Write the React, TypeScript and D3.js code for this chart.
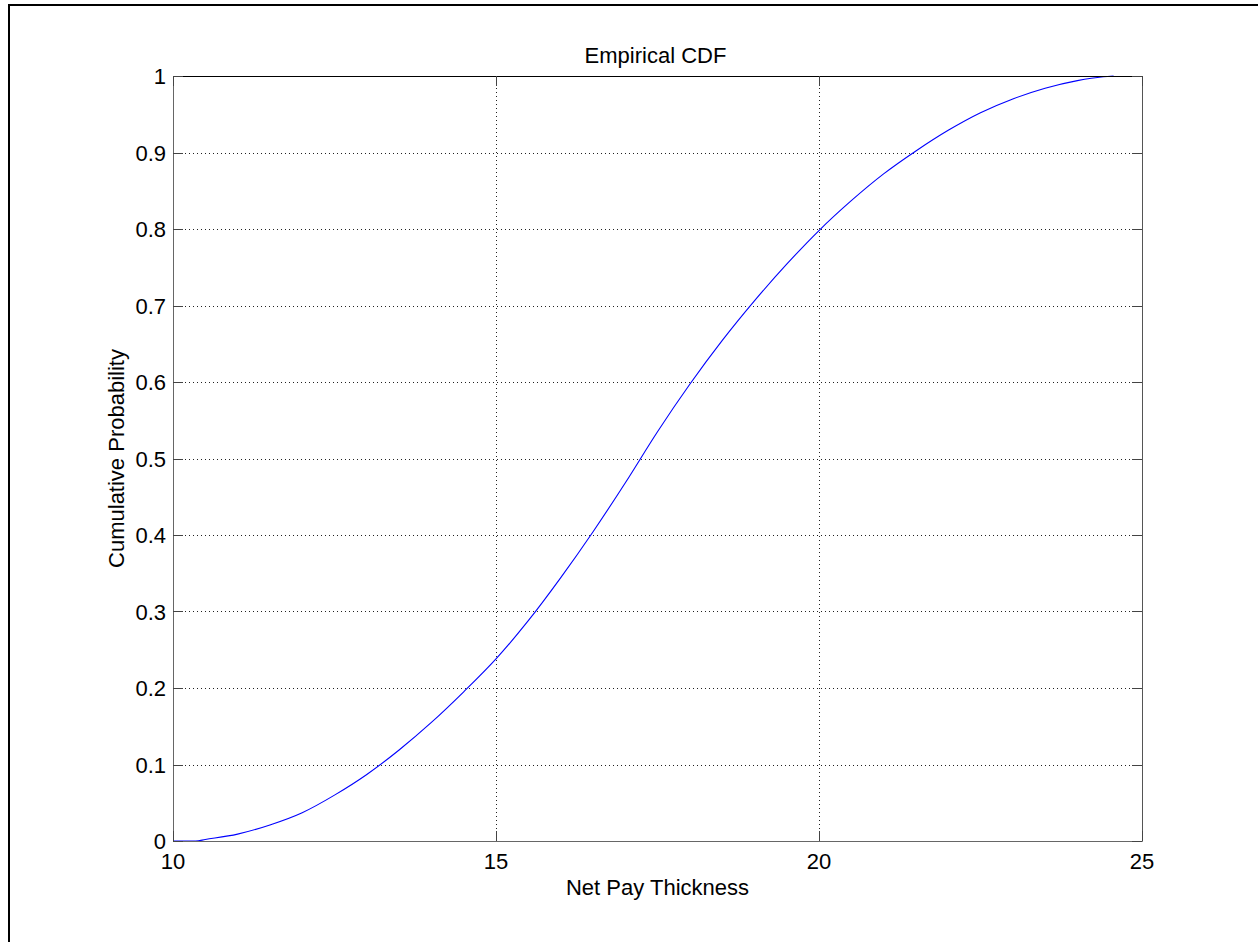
import React from "react";
import * as d3 from "d3";

// Net pay thickness values and their empirical cumulative probabilities
const thickness = [10.0, 10.35, 10.5, 11.0, 11.5, 12.0, 12.5, 13.0, 13.5, 14.0, 14.5, 15.0, 15.5, 16.0, 16.5, 17.0, 17.5, 18.0, 18.5, 19.0, 19.5, 20.0, 20.5, 21.0, 21.5, 22.0, 22.5, 23.0, 23.5, 24.0, 24.4, 24.56];
const cumProb = [0, 0, 0.002, 0.009, 0.021, 0.037, 0.06, 0.087, 0.119, 0.155, 0.195, 0.238, 0.288, 0.344, 0.404, 0.468, 0.535, 0.597, 0.654, 0.706, 0.754, 0.798, 0.837, 0.872, 0.902, 0.929, 0.952, 0.97, 0.984, 0.994, 0.999, 1.0];

const xTicks = [10, 15, 20, 25];
const yTicks = [0, 0.1, 0.2, 0.3, 0.4, 0.5, 0.6, 0.7, 0.8, 0.9, 1];

const W = 1258;
const H = 942;
const M = { left: 173, top: 76, right: 1142, bottom: 841 };
const FONT = "Arial, 'Liberation Sans', Helvetica, sans-serif";
const FS = 22;

export default function App() {
  const x = d3.scaleLinear().domain([10, 25]).range([M.left, M.right]);
  const y = d3.scaleLinear().domain([0, 1]).range([M.bottom, M.top]);
  const pts = thickness.map((t, i) => [t, cumProb[i]] as [number, number]);
  const line = d3
    .line<[number, number]>()
    .x((d) => x(d[0]))
    .y((d) => y(d[1]))
    .curve(d3.curveMonotoneX);
  const tick = 10;

  return (
    <svg
      width={W}
      height={H}
      style={{ position: "absolute", left: 0, top: 0, background: "#fff" }}
      fontFamily={FONT}
    >
      {/* outer frame edges */}
      <line x1={8.5} x2={W} y1={5} y2={5} stroke="#000" strokeWidth={2} />
      <line x1={9} x2={9} y1={4} y2={H} stroke="#000" strokeWidth={2} />

      {/* grid */}
      {xTicks.slice(1, -1).map((t) => (
        <line key={"gx" + t} x1={Math.round(x(t)) + 0.5} x2={Math.round(x(t)) + 0.5} y1={M.top} y2={M.bottom}
          stroke="#222" strokeDasharray="1 3" strokeWidth={1} />
      ))}
      {yTicks.slice(1, -1).map((t) => (
        <line key={"gy" + t} x1={M.left} x2={M.right} y1={Math.round(y(t)) + 0.5} y2={Math.round(y(t)) + 0.5}
          stroke="#222" strokeDasharray="1 3" strokeWidth={1} />
      ))}

      {/* curve */}
      <path d={line(pts) || ""} fill="none" stroke="#0000ff" strokeWidth={1.1} />

      {/* axes box */}
      <line x1={M.left} x2={M.right + 0.5} y1={M.top + 0.5} y2={M.top + 0.5} stroke="#000" />
      <line x1={M.right + 0.5} x2={M.right + 0.5} y1={M.top} y2={M.bottom + 0.5} stroke="#555" />
      <line x1={M.left + 0.5} x2={M.left + 0.5} y1={M.top} y2={M.bottom + 0.5} stroke="#666" />
      <line x1={M.left} x2={M.right + 0.5} y1={M.bottom + 0.5} y2={M.bottom + 0.5} stroke="#666" />

      {/* ticks */}
      {xTicks.map((t) => {
        const px = Math.round(x(t)) + 0.5;
        return (
          <g key={"xt" + t}>
            <line x1={px} x2={px} y1={M.bottom} y2={M.bottom - tick} stroke="#444" />
            <line x1={px} x2={px} y1={M.top} y2={M.top + tick} stroke="#444" />
            <text x={x(t)} y={869} textAnchor="middle" fontSize={FS} fill="#000">{t}</text>
          </g>
        );
      })}
      {yTicks.map((t) => {
        const py = Math.round(y(t)) + 0.5;
        return (
          <g key={"yt" + t}>
            <line x1={M.left} x2={M.left + tick} y1={py} y2={py} stroke="#444" />
            <line x1={M.right} x2={M.right - tick} y1={py} y2={py} stroke="#444" />
            <text x={166} y={y(t) + 8} textAnchor="end" fontSize={FS} fill="#000">{String(t)}</text>
          </g>
        );
      })}

      {/* labels */}
      <text x={(M.left + M.right) / 2 - 2} y={63} textAnchor="middle" fontSize={FS} fill="#000">Empirical CDF</text>
      <text x={(M.left + M.right) / 2} y={895} textAnchor="middle" fontSize={FS} fill="#000">Net Pay Thickness</text>
      <text transform={`translate(124, ${(M.top + M.bottom) / 2}) rotate(-90)`} textAnchor="middle" fontSize={FS} fill="#000">
        Cumulative Probability
      </text>
    </svg>
  );
}
